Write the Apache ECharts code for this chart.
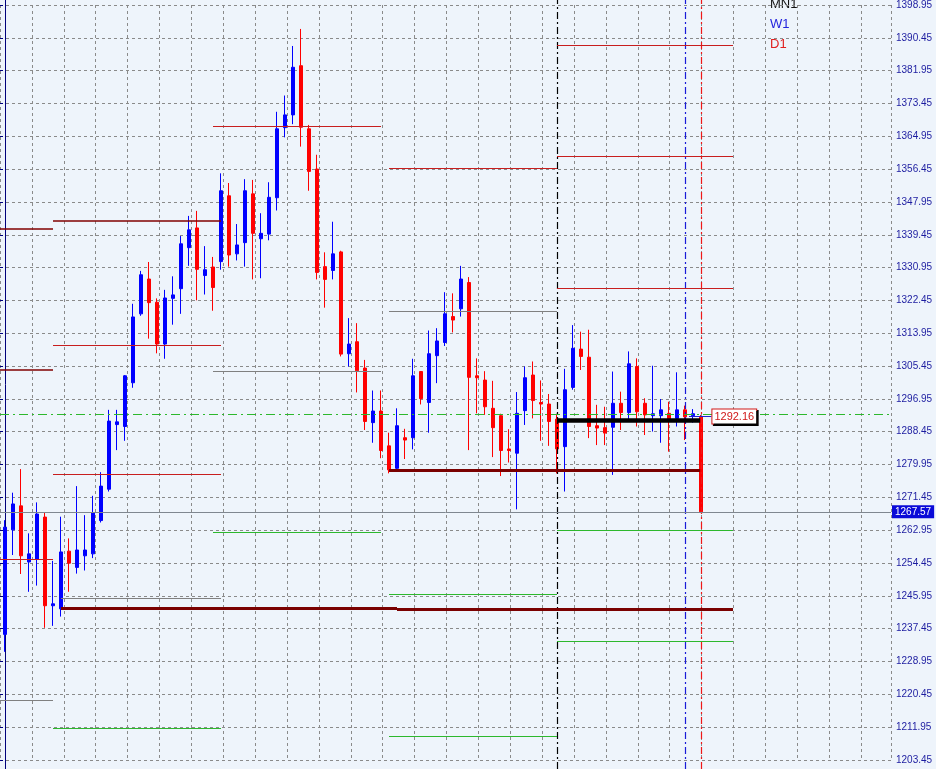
<!DOCTYPE html>
<html><head><meta charset="utf-8">
<script src="https://cdn.jsdelivr.net/npm/echarts@6/dist/echarts.min.js"></script>
<style>html,body{margin:0;padding:0;background:#eef4fb;}#c{width:936px;height:769px;}</style>
</head><body><div id="c"></div>
<script>
// ---- daily candles (index 0..87) ----
const opens  = [1235.9,1262.9,1269.1,1254.6,1255.3,1266.2,1243.3,1242.5,1257.4,1253.2,1256.2,1256.7,1265.3,1273.4,1290.1,1289.6,1300.9,1318.7,1327.7,1321.7,1310.9,1322.7,1325.2,1335.8,1340.9,1328.6,1330.8,1332.2,1349.2,1334.2,1337.1,1349.7,1338.1,1339.3,1348.7,1366.8,1370.1,1382.8,1366.5,1356.1,1330.9,1329.9,1334.7,1308.4,1311.5,1304.7,1290.6,1293.6,1284.6,1278.8,1286.7,1286.7,1303.8,1295.8,1307.9,1311.3,1318.0,1320.0,1326.8,1302.7,1301.6,1294.3,1292.4,1283.8,1282.7,1293.7,1302.9,1295.8,1295.4,1291.5,1284.4,1299.7,1309.6,1307.5,1289.8,1289.3,1289.4,1295.6,1293.2,1305.1,1295.6,1292.4,1292.4,1293.0,1291.7,1293.9,1292.4,1292.16];
const closes = [1263.6,1269.6,1256.2,1256.7,1267.0,1243.3,1243.8,1257.2,1254.3,1257.7,1257.7,1267.3,1274.2,1291.0,1290.8,1302.7,1317.9,1328.8,1321.6,1310.9,1322.8,1323.6,1336.8,1340.4,1330.2,1330.1,1325.5,1350.5,1333.9,1336.5,1350.5,1339.5,1339.5,1348.8,1366.5,1370.1,1382.4,1366.9,1355.5,1329.4,1327.6,1334.2,1308.3,1310.9,1304.0,1290.9,1293.6,1283.4,1278.4,1289.8,1286.1,1302.7,1296.8,1308.4,1311.7,1318.7,1317.1,1327.7,1302.3,1302.2,1294.7,1289.3,1283.4,1283.4,1293.0,1302.2,1296.3,1295.4,1290.9,1283.8,1299.1,1309.8,1307.7,1289.6,1289.2,1287.9,1295.6,1293.2,1305.8,1293.4,1292.6,1292.9,1293.9,1291.6,1293.9,1292.1,1292.9,1267.57];
const lows   = [1231.4,1256.4,1251.5,1246.9,1248.5,1237.6,1238.1,1240.5,1246.9,1251.6,1252.4,1255.6,1264.8,1272.8,1283.5,1285.9,1299.6,1318.2,1312.3,1308.5,1307.1,1315.9,1318.7,1331.1,1322.2,1323.7,1319.5,1330.1,1330.9,1332.5,1330.9,1327.6,1327.9,1337.7,1345.4,1364.3,1367.7,1361.9,1350.5,1327.6,1320.3,1327.6,1307.7,1305.1,1298.4,1288.7,1285.4,1281.4,1277.5,1278.4,1281.2,1283.7,1295.3,1288.0,1300.8,1310.4,1313.9,1318.0,1283.5,1293.0,1292.6,1281.7,1276.8,1280.3,1268.2,1290.0,1291.7,1285.9,1284.6,1277.5,1272.8,1299.1,1304.2,1286.6,1284.8,1284.8,1277.1,1288.7,1291.4,1289.6,1287.4,1288.3,1285.4,1283.1,1289.6,1286.1,1290.6,1267.57];
const highs  = [1265.4,1272.5,1278.6,1262.0,1270.0,1267.5,1254.9,1266.3,1260.7,1274.2,1266.7,1271.7,1277.8,1293.9,1293.9,1302.9,1321.3,1329.8,1332.1,1322.7,1324.9,1328.4,1338.8,1344.0,1345.3,1336.2,1333.4,1355.0,1352.5,1341.9,1353.5,1353.3,1344.7,1352.7,1370.9,1375.1,1387.9,1392.3,1367.5,1359.8,1334.6,1342.5,1335.0,1317.6,1316.3,1306.8,1298.9,1298.9,1288.0,1294.3,1289.0,1307.1,1303.9,1314.4,1315.0,1324.3,1324.0,1331.1,1328.2,1307.2,1303.9,1301.4,1292.9,1288.9,1298.5,1305.1,1306.4,1301.5,1298.0,1292.9,1304.5,1315.8,1314.1,1314.6,1295.2,1294.7,1303.8,1298.6,1309.0,1307.2,1296.9,1305.3,1296.7,1296.0,1303.6,1295.0,1294.1,1292.6];

// ---- right price-axis tick labels ----
const tickLabels = ['1203.45','1211.95','1220.45','1228.95','1237.45','1245.95','1254.45','1262.95','1271.45','1279.95','1288.45','1296.95','1305.45','1313.95','1322.45','1330.95','1339.45','1347.95','1356.45','1364.95','1373.45','1381.95','1390.45','1398.95'];

// ---- level lines: [fromBar, toBar, price] ----
const redLevels    = [[26,47,1367.25],[48,69,1356.4],[69,91,1388.15],[69,91,1359.5],[69,91,1325.4],[6,27,1310.65],[6,27,1277.35],[-0.625,6,1255.4]];
const maroonLevels = [[-0.625,6,1340.6],[-0.625,6,1304.2],[6,27,1342.7]];
const greyLevels   = [[26,47,1303.95],[48,69,1319.45],[7,27,1245.3],[-0.625,6,1218.95]];
const greenLevels  = [[26,47,1262.35],[48,69,1246.35],[69,91,1262.85],[69,91,1234.2],[6,27,1211.7],[48,69,1209.65]];
const thickMaroonLevels = [[7,49,1242.75],[49,91,1242.45],[48,86.9,1278.35]];
const thickBlackLevels  = [[69,86.9,1291.3]];
const monthStarts = [69];
const weekStarts  = [85];
const dayStarts   = [87];
const bidPrice = 1267.57;
const greenDashPrice = 1292.75;
const priceLabel = [85.5, 88.3, 1292.16];
const periodNames = ['MN1','W1','D1'];

// ---- layout constants ----
const W = 936, H = 769, RIGHT = 45, BOTTOM = 9;
const LOW = 1203.45, HIGH = 1398.95, STEP = 8.5;
const PX = 3.8711;                       // pixels per price unit
const TOP = H - BOTTOM - (HIGH - LOW) * PX;
const OFFS = LOW - Math.floor(LOW / STEP) * STEP;  // 4.95
const HALF = 0.5 / 8;                    // half a pixel in bar units (crisp 1px lines)
const YMIN = LOW - BOTTOM / PX, YMAX = LOW + (H - BOTTOM) / PX;

const candleData = opens.map((o, i) => [i, o, closes[i], lows[i], highs[i]]);
const segs = list => list.map(([a, b, p]) => [{coord: [a, p]}, {coord: [b, p]}]);
const mlSeries = (data, lineStyle, extra) => ({
  type: 'line', data: [], xAxisIndex: 0, yAxisIndex: 0, silent: true,
  markLine: Object.assign({silent: true, symbol: ['none', 'none'], animation: false,
    label: {show: false}, lineStyle: lineStyle, data: data}, extra || {})
});
// vertical period separators drawn as two-point line series
const vSeries = (list, color) => list.map(v => ({
  type: 'line', xAxisIndex: 0, yAxisIndex: 0, silent: true, showSymbol: false, symbol: 'none',
  data: [[v + HALF, YMIN], [v + HALF, YMAX]], z: 3,
  lineStyle: {color: color, width: 1.2, type: [7, 3, 2, 3]}
}));

const chart = echarts.init(document.getElementById('c'), null, {width: W, height: H});
chart.setOption({
  animation: false,
  backgroundColor: '#eef4fb',
  grid: [
    {left: 0, right: RIGHT, top: 0, bottom: 0},
    {left: -3, right: RIGHT, top: TOP, bottom: BOTTOM}
  ],
  xAxis: [
    {gridIndex: 0, type: 'value', min: -0.625, max: -0.625 + (W - RIGHT) / 8, show: false},
    {gridIndex: 1, type: 'value', min: 0, max: (W - RIGHT + 3) / 32, interval: 1,
     axisLine: {show: false}, axisTick: {show: false}, axisLabel: {show: false},
     splitLine: {show: true, lineStyle: {color: '#8a8a8a', type: [3, 3], width: 1}}}
  ],
  yAxis: [
    {gridIndex: 0, type: 'value', position: 'right', min: YMIN, max: YMAX,
     axisLine: {show: true, lineStyle: {color: '#00007a', width: 1}},
     axisTick: {show: false}, axisLabel: {show: false}, splitLine: {show: false}},
    {gridIndex: 1, type: 'value', position: 'right',
     min: LOW - OFFS, max: HIGH - OFFS, interval: STEP,
     axisLine: {show: false},
     axisTick: {show: true, length: 3, lineStyle: {color: '#00007a'}},
     axisLabel: {show: true, margin: 5, color: '#1c1ca0', fontSize: 10, fontFamily: 'Liberation Sans',
       formatter: v => tickLabels.find(t => Math.abs(parseFloat(t) - (v + OFFS)) < 0.01) || ''},
     splitLine: {show: true, lineStyle: {color: '#8a8a8a', type: [3, 3], width: 1}}}
  ],
  graphic: [
    {type: 'text', left: 770, top: -2, style: {text: periodNames[0], fill: '#111111', font: '13px "Liberation Sans"'}},
    {type: 'text', left: 770, top: 18, style: {text: periodNames[1], fill: '#2323dd', font: '13px "Liberation Sans"'}},
    {type: 'text', left: 770, top: 38, style: {text: periodNames[2], fill: '#e02020', font: '13px "Liberation Sans"'}}
  ],
  series: [
    {type: 'candlestick', xAxisIndex: 0, yAxisIndex: 0, data: candleData,
     encode: {x: 0, y: [1, 2, 3, 4]}, barWidth: 4, z: 2,
     itemStyle: {color: '#0000ff', color0: '#ff0000', borderColor: '#0000ff', borderColor0: '#ff0000', borderWidth: 1}},
    mlSeries([{yAxis: greenDashPrice}], {color: '#2db82d', width: 1, type: [9, 4, 2, 4]}),
    mlSeries(segs(redLevels), {color: '#c81e1e', width: 1, type: 'solid'}),
    mlSeries(segs(maroonLevels), {color: '#800000', width: 1.5, type: 'solid'}),
    mlSeries(segs(greyLevels), {color: '#808080', width: 1, type: 'solid'}),
    mlSeries(segs(greenLevels), {color: '#2db82d', width: 1, type: 'solid'}),
    mlSeries(segs(thickMaroonLevels), {color: '#7a0000', width: 3, type: 'solid'}),
    mlSeries(segs(thickBlackLevels), {color: '#000000', width: 4.5, type: 'solid'}),
    ...vSeries(monthStarts, '#000000'),
    ...vSeries(weekStarts, '#1a1ad8'),
    ...vSeries(dayStarts, '#f01818'),
    mlSeries([{yAxis: bidPrice}], {color: '#7f8790', width: 1, type: 'solid'},
      {label: {show: true, position: 'end', distance: 1, formatter: bidPrice.toFixed(2),
        color: '#ffffff', backgroundColor: '#0a0ad8', padding: [2, 3, 1, 3],
        fontSize: 10, fontFamily: 'Liberation Sans'}}),
    mlSeries([[{coord: [priceLabel[0], priceLabel[2]]}, {coord: [priceLabel[1], priceLabel[2]]}]],
      {color: '#2020d0', width: 1, type: 'solid'},
      {label: {show: true, position: 'end', distance: 1, formatter: priceLabel[2].toFixed(2),
        color: '#d01818', backgroundColor: '#ffffff', borderColor: '#d01818', borderWidth: 1,
        padding: [2, 2, 1, 2], fontSize: 11, fontFamily: 'Liberation Sans',
        shadowColor: '#000000', shadowOffsetX: 1.5, shadowOffsetY: 1.5, shadowBlur: 0}})
  ]
});
</script></body></html>
